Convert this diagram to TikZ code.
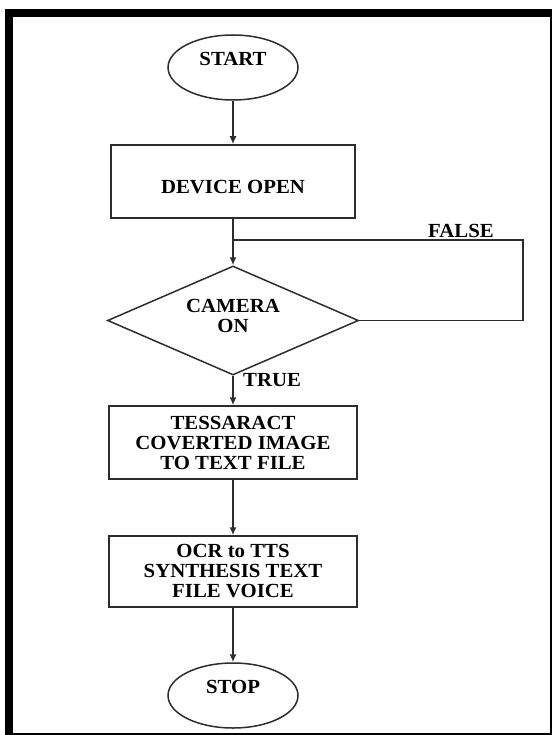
\documentclass[tikz,border=0pt]{standalone}
\usepackage{fontspec}
\setmainfont[FakeStretch=1.04]{Liberation Serif}
\usetikzlibrary{shapes.geometric,arrows.meta}
\definecolor{ink}{RGB}{45,45,45}
\begin{document}
\begin{tikzpicture}[x=1pt,y=-1pt,
  every node/.style={inner sep=0pt, font=\fontsize{20}{20}\selectfont\bfseries, text=black},
  shp/.style={draw=ink, line width=1.5pt, fill=white},
  term/.style={shp, ellipse, minimum width=130pt, minimum height=65pt},
  proc/.style={shp, rectangle, minimum width=248pt, minimum height=73pt, align=center},
  decision/.style={shp, diamond, aspect=2.3, minimum width=251pt, minimum height=109pt},
  flow/.style={draw=ink, line width=1.5pt, -{Latex[length=8pt,width=7pt]}},
  link/.style={draw=ink, line width=1.5pt},
  tag/.style={anchor=west}]

% page frame: heavy top/left edge, thin right/bottom edge
\useasboundingbox (0,0) rectangle (553,735);
\fill[black] (5,9) rectangle (552,735);
\fill[white] (13,17) rectangle (550,733);

% flowchart blocks
\node[term] (start) at (233,67.5) {\raisebox{9pt}[\height][\depth]{START}};
\node[proc, minimum width=244pt] (device) at (233,181.5) {\raisebox{-5.5pt}[\height][\depth]{DEVICE OPEN}};
\node[decision] (cam) at (233,320.5)
  {\raisebox{2.4pt}[\height][\depth]{\begin{tabular}{@{}c@{}}CAMERA\\ON\end{tabular}}};
\node[proc] (tess) at (233,442.5) {TESSARACT\\COVERTED IMAGE\\TO TEXT FILE};
\node[proc, minimum height=71pt] (ocr) at (233,571.5) {OCR to TTS\\SYNTHESIS TEXT\\FILE VOICE};
\node[term] (stop) at (233,695.5) {\raisebox{9pt}[\height][\depth]{STOP}};

% loop-back points of the FALSE branch
\coordinate (fc) at (523,240);
\coordinate (j) at (233,240);

% connectors
\draw[flow] (start) -- (device);
\draw[flow] (device) -- (cam);
\draw[link] (cam.east) -| (fc) -- (j);
\draw[flow] (cam) -- (tess);
\draw[flow] (tess) -- (ocr);
\draw[flow] (ocr) -- (stop);

% branch labels
\node[tag] (falselbl) at (428,230.5) {FALSE};
\node[tag] (truelbl) at (243,380.5) {TRUE};
\end{tikzpicture}
\end{document}
